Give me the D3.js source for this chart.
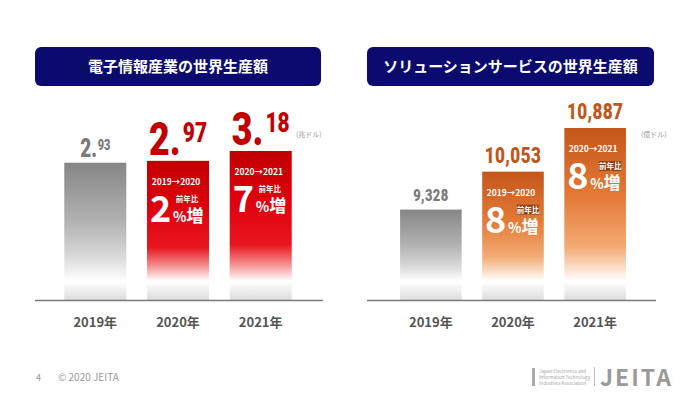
<!DOCTYPE html>
<html>
<head>
<meta charset="utf-8">
<script src="https://cdn.jsdelivr.net/npm/d3@7"></script>
<style>
  body { margin: 0; background: #fff; }
  text { font-family: "Noto Sans CJK JP", "Noto Sans", sans-serif; }
  .num { font-family: "Roboto", "Liberation Sans", sans-serif; font-weight: 900; }
</style>
</head>
<body>
<div id="chart"></div>
<script>
// data
var years = ["2019年", "2020年", "2021年"];
var periodLabels = [null, "2019→2020", "2020→2021"];
var electronicsValues = [2.93, 2.97, 3.18];     // 兆ドル
var electronicsGrowth = [null, 2, 7];           // 前年比 %
var solutionValues = [9328, 10053, 10887];      // 億ドル
var solutionGrowth = [null, 8, 8];              // 前年比 %

var width = 700, height = 394, baseY = 300, fadeY = 281;

var svg = d3.select("#chart")
  .append("svg")
  .attr("width", width)
  .attr("height", height);

var defs = svg.append("defs");

var schemes = {
  gray:   [[0, "#868686"], [0.5, "#b2b2b2"], [0.8, "#dadada"], [1, "#ffffff"]],
  red:    [[0, "#c00000"], [0.35, "#dc000c"], [0.72, "#e8161e"], [0.88, "#f59595"], [1, "#ffffff"]],
  orange: [[0, "#c4561a"], [0.45, "#e37a37"], [0.78, "#f3ab74"], [1, "#ffffff"]]
};

function drawPanel(cfg) {
  var g = svg.append("g").attr("class", cfg.id);

  // title box
  g.append("rect")
    .attr("x", cfg.x0).attr("y", 47)
    .attr("width", cfg.x1 - cfg.x0).attr("height", 39)
    .attr("rx", 6)
    .attr("fill", "#0b0b6f");
  g.append("text")
    .attr("x", (cfg.x0 + cfg.x1) / 2).attr("y", 72)
    .attr("text-anchor", "middle")
    .attr("fill", "#fff")
    .attr("font-size", 15)
    .attr("font-weight", "bold")
    .text(cfg.title);

  var xScale = d3.scaleBand()
    .domain(years)
    .range([cfg.bandX0, cfg.bandX1])
    .paddingInner(0.25)
    .paddingOuter(0.354);

  var yScale = d3.scaleLinear()
    .domain(cfg.domain)
    .range([baseY, cfg.topY]);

  var bars = cfg.values.map(function(v, i) {
    return { year: years[i], value: v, growth: cfg.growth[i], period: periodLabels[i], i: i };
  });
  var cx = function(d) { return xScale(d.year) + xScale.bandwidth() / 2; };

  // gradients, one per bar
  bars.forEach(function(d) {
    var top = yScale(d.value), h = baseY - top;
    var stops = schemes[d.i == 0 ? "gray" : cfg.color];
    var grad = defs.append("linearGradient")
      .attr("id", cfg.id + "-grad-" + d.i)
      .attr("gradientUnits", "userSpaceOnUse")
      .attr("x1", 0).attr("x2", 0)
      .attr("y1", top).attr("y2", baseY);
    var fadeOff = (fadeY - top) / h;
    stops.forEach(function(s) {
      grad.append("stop").attr("offset", s[0] * fadeOff).attr("stop-color", s[1]);
    });
    grad.append("stop").attr("offset", (fadeY + 3 - top) / h).attr("stop-color", "#fbfbfb");
    grad.append("stop").attr("offset", 1).attr("stop-color", "#dcdcdc");
  });

  g.selectAll(".bar")
    .data(bars).enter().append("rect")
      .attr("class", "bar")
      .attr("x", function(d) { return xScale(d.year); })
      .attr("y", function(d) { return yScale(d.value); })
      .attr("width", xScale.bandwidth())
      .attr("height", function(d) { return baseY - yScale(d.value); })
      .attr("fill", function(d) { return "url(#" + cfg.id + "-grad-" + d.i + ")"; });

  // baseline
  g.append("line")
    .attr("x1", cfg.x0).attr("x2", cfg.x1 + 2)
    .attr("y1", baseY + 0.5).attr("y2", baseY + 0.5)
    .attr("stroke", "#7a7a7a")
    .attr("stroke-width", 1.5);

  // value labels (condensed heavy digits)
  var labels = g.selectAll(".value")
    .data(bars).enter().append("g")
      .attr("class", "value")
      .attr("transform", function(d) {
        return "translate(" + cx(d) + "," + (yScale(d.value) - cfg.labelGap) + ") scale(0.76,1)";
      })
    .append("text")
      .attr("class", "num")
      .attr("text-anchor", "middle")
      .attr("fill", function(d) { return d.i == 0 ? "#7a7a7a" : cfg.valueColor; });
  cfg.label(labels);

  // year labels
  g.selectAll(".year")
    .data(bars).enter().append("text")
      .attr("class", "year")
      .attr("text-anchor", "middle")
      .attr("x", cx)
      .attr("y", 327)
      .attr("fill", "#555")
      .attr("font-size", 13)
      .attr("font-weight", "bold")
      .text(function(d) { return d.year; });

  // growth annotations inside bars
  var ann = g.selectAll(".ann")
    .data(bars.filter(function(d) { return d.growth != null; }))
    .enter().append("g")
      .attr("class", "ann")
      .attr("transform", function(d) {
        return "translate(" + cx(d) + "," + yScale(d.value) + ")";
      });

  ann.append("text")
    .attr("x", -2).attr("y", 24)
    .attr("text-anchor", "middle")
    .attr("fill", "#fff")
    .attr("font-size", 8.5)
    .attr("font-weight", "bold")
    .text(function(d) { return d.period; });

  if (cfg.boxColor) {
    ann.append("rect")
      .attr("x", cfg.ratioX - 11).attr("y", 33)
      .attr("width", 22).attr("height", 10)
      .attr("fill", cfg.boxColor);
  }
  ann.append("text")
    .attr("x", cfg.ratioX).attr("y", 41)
    .attr("text-anchor", "middle")
    .attr("fill", "#fff")
    .attr("font-size", 7.5)
    .attr("font-weight", "bold")
    .text("前年比");

  ann.append("text")
    .attr("x", -28).attr("y", 61)
    .attr("fill", "#fff")
    .attr("font-size", 36)
    .attr("font-weight", "bold")
    .text(function(d) { return d.growth; });

  var pct = ann.append("text")
    .attr("x", -5).attr("y", 61)
    .attr("fill", "#fff")
    .attr("font-weight", "bold");
  pct.append("tspan").attr("font-size", 14).text("%");
  pct.append("tspan").attr("font-size", 17).text("増");

  // unit
  g.append("text")
    .attr("x", cfg.unitX).attr("y", 137)
    .attr("fill", "#9a9a9a")
    .attr("font-size", 7)
    .text(cfg.unit);
}

drawPanel({
  id: "electronics",
  title: "電子情報産業の世界生産額",
  x0: 35, x1: 321, bandX0: 35, bandX1: 321,
  values: electronicsValues, growth: electronicsGrowth,
  domain: [0, 3.18], topY: 151,
  color: "red", valueColor: "#c00000",
  labelGap: 6, ratioX: 9, boxColor: null,
  unit: "(兆ドル)", unitX: 296,
  label: function(sel) {
    sel.each(function(d) {
      var parts = d.value.toFixed(2).split(".");
      var big = d.i == 0 ? 25 : 47, small = d.i == 0 ? 14.5 : 27.5;
      var t = d3.select(this);
      t.append("tspan").attr("font-size", big).text(parts[0] + ".");
      t.append("tspan").attr("font-size", small)
        .attr("dx", d.i == 0 ? 1 : 3)
        .attr("dy", -(big - small) * 0.68)
        .text(parts[1]);
    });
  }
});

drawPanel({
  id: "solution",
  title: "ソリューションサービスの世界生産額",
  x0: 367, x1: 654, bandX0: 371, bandX1: 655,
  values: solutionValues, growth: solutionGrowth,
  domain: [7600, 10887], topY: 128,
  color: "orange", valueColor: "#c0561a",
  labelGap: 9, ratioX: 15, boxColor: "rgba(100,38,12,0.6)",
  unit: "(億ドル)", unitX: 641,
  label: function(sel) {
    sel.attr("font-size", function(d) { return d.i == 0 ? 17 : 22.5; })
      .attr("letter-spacing", 0.5)
      .text(function(d) { return d3.format(",")(d.value); });
  }
});

// footer
svg.append("text")
  .attr("x", 36).attr("y", 381)
  .attr("fill", "#999").attr("font-size", 9)
  .text("4");
svg.append("text")
  .attr("x", 58).attr("y", 381)
  .attr("fill", "#999").attr("font-size", 10)
  .text("© 2020 JEITA");

var logo = svg.append("g").attr("class", "logo");
logo.append("rect")
  .attr("x", 532).attr("y", 368).attr("width", 3).attr("height", 18)
  .attr("fill", "#aaa");
["Japan Electronics and", "Information Technology", "Industries Association"].forEach(function(s, i) {
  logo.append("text")
    .attr("x", 539).attr("y", 373 + i * 6)
    .attr("fill", "#a5a5a5").attr("font-size", 4.6)
    .attr("font-family", "Liberation Sans")
    .text(s);
});
logo.append("line")
  .attr("x1", 594.5).attr("x2", 594.5).attr("y1", 367).attr("y2", 386)
  .attr("stroke", "#bbb");
logo.append("text")
  .attr("x", 600).attr("y", 386)
  .attr("fill", "#9a9a9a")
  .attr("font-size", 23)
  .attr("font-family", "Lato")
  .attr("font-weight", "bold")
  .attr("letter-spacing", 2)
  .text("JEITA");
</script>
</body>
</html>
